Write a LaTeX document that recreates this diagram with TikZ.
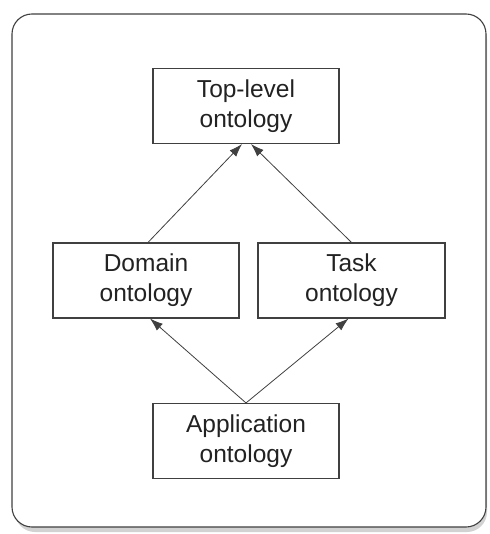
\documentclass[tikz,border=0pt]{standalone}
\usepackage{fontspec}
\setmainfont{Liberation Sans}
\usetikzlibrary{arrows.meta}
\definecolor{edge}{HTML}{404040}
\definecolor{ink}{HTML}{222222}
\begin{document}
\begin{tikzpicture}[x=1pt,y=-1pt,
  box/.style={draw=edge,line width=1.1pt,rectangle,minimum width=186pt,minimum height=75pt,
    align=center,text=ink,font=\fontsize{24.5}{30}\selectfont,inner sep=0pt},
  link/.style={draw=edge,line width=0.8pt,-{Latex[length=13pt,width=9pt]}}]
  \useasboundingbox (0,0) rectangle (489,534);
  % frame with a soft shadow
  \fill[gray!35,rounded corners=20pt] (15,19) rectangle (487,532);
  \draw[edge,line width=1.1pt,fill=white,rounded corners=20pt] (12,14) rectangle (486,527);
  % ontology boxes
  \node[box] (top) at (246,106) {Top-level\\ontology};
  \node[box] (dom) at (146,280.5) {Domain\\ontology};
  \node[box,minimum width=187pt] (task) at (351.5,280.5) {Task\\ontology};
  \node[box] (app) at (246,441) {Application\\ontology};
  % specialisation links
  \draw[link] ([xshift=2pt]dom.north) -- ([xshift=-4pt]top.south);
  \draw[link] (task.north) -- ([xshift=5pt]top.south);
  \draw[link] (app.north) -- ([xshift=4pt]dom.south);
  \draw[link] (app.north) -- ([xshift=-3pt]task.south);
\end{tikzpicture}
\end{document}
